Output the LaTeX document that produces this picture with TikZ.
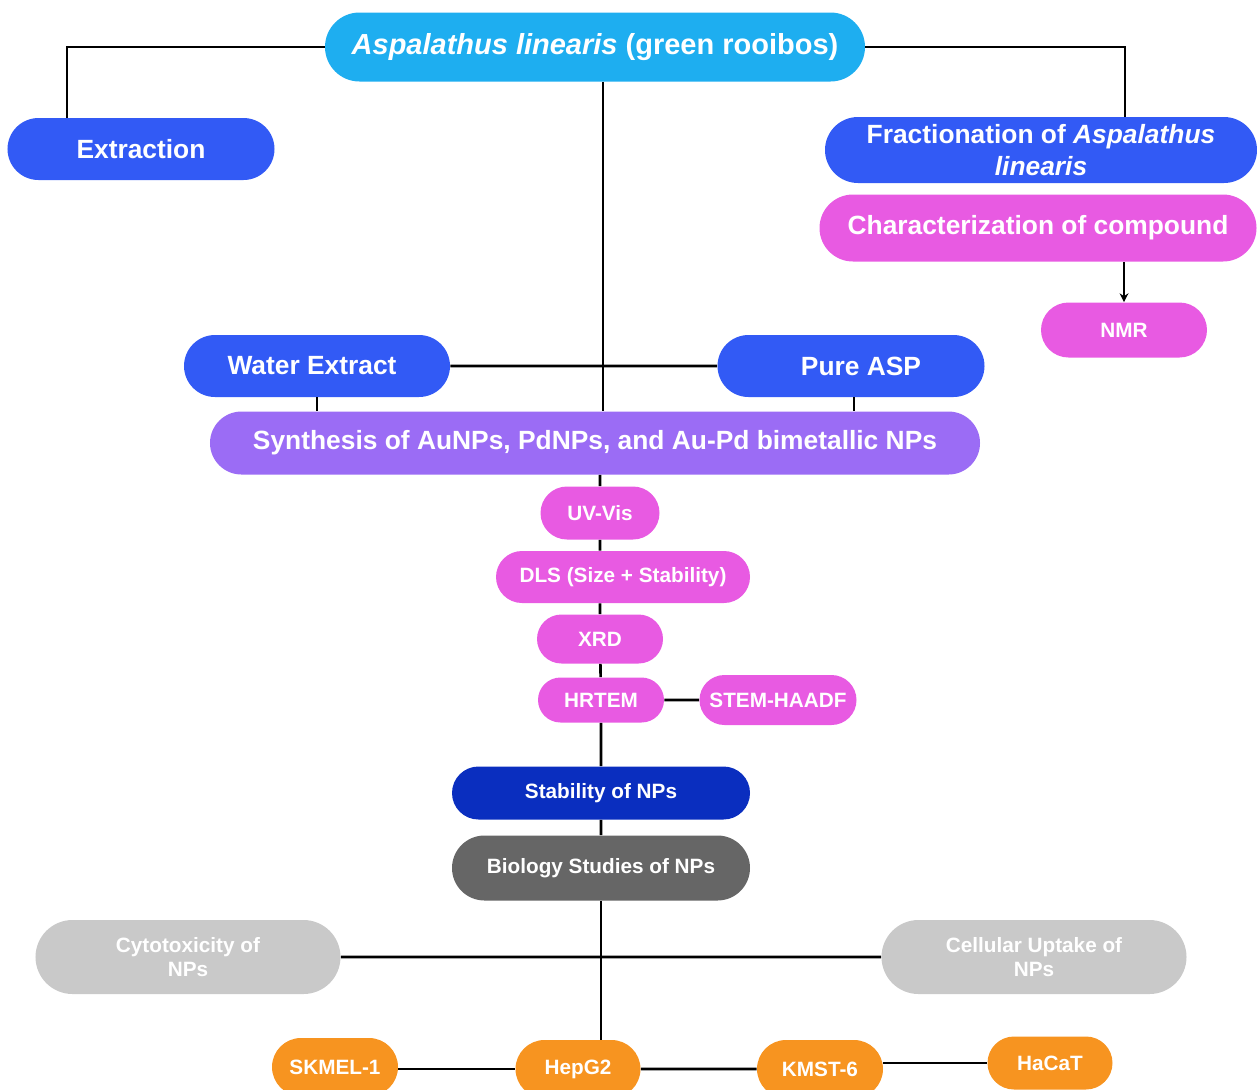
\documentclass[tikz,border=0pt]{standalone}
\usepackage{fontspec}
\setmainfont{Liberation Sans}
\usetikzlibrary{shapes.misc,arrows.meta,calc}

\definecolor{skyblue}{RGB}{30,174,240}
\definecolor{royal}{RGB}{50,90,245}
\definecolor{orchid}{RGB}{232,90,226}
\definecolor{violet}{RGB}{155,108,245}
\definecolor{navy}{RGB}{10,46,191}
\definecolor{slate}{RGB}{102,102,102}
\definecolor{silver}{RGB}{201,201,201}
\definecolor{amber}{RGB}{247,148,32}

\tikzset{
    box/.style={rounded rectangle,inner sep=0pt,text=white,align=center},
    big/.style={box,font=\fontsize{15}{18}\selectfont\bfseries},
    small/.style={box,font=\fontsize{11.8}{14}\selectfont\bfseries},
    link/.style={line width=1.5pt}
}

\begin{document}
\begin{tikzpicture}[x=0.2mm,y=-0.2mm]
    \useasboundingbox (0,0) rectangle (1257,1089);

    \node[box,fill=skyblue,font=\fontsize{16.5}{20}\selectfont\bfseries,minimum width=108mm,minimum height=13.8mm] (root) at (595,47) {\textit{Aspalathus linearis} (green rooibos)};
    \node[big,fill=royal,minimum width=53.4mm,minimum height=12.4mm] (extr) at (141,149) {Extraction};
    \node[big,fill=royal,minimum width=86.4mm,minimum height=13.2mm] (frac) at (1041,150) {Fractionation of \textit{Aspalathus}\\\textit{linearis}};
    \node[big,fill=orchid,minimum width=87.4mm,minimum height=13.4mm] (charac) at (1038,228) {Characterization of compound};
    \node[small,fill=orchid,minimum width=33.2mm,minimum height=11mm] (nmr) at (1124,330) {NMR};
    \node[big,fill=royal,minimum width=53.2mm,minimum height=12.4mm] (water) at (317,366) {Water Extract\hspace{2mm}};
    \node[big,fill=royal,minimum width=53.4mm,minimum height=12.4mm] (pure) at (851,366) {\hspace{4mm}Pure ASP};
    \node[big,fill=violet,minimum width=154mm,minimum height=12.6mm] (synth) at (595,443) {Synthesis of AuNPs, PdNPs, and Au-Pd bimetallic NPs};

    \node[small,fill=orchid,minimum width=23.8mm,minimum height=10.6mm] (uvvis) at (600,513) {UV-Vis};
    \node[small,fill=orchid,minimum width=50.8mm,minimum height=10.4mm] (dls) at (623,577) {DLS (Size + Stability)};
    \node[small,fill=orchid,minimum width=25.2mm,minimum height=9.8mm] (xrd) at (600,639) {XRD};
    \node[small,fill=orchid,minimum width=25.2mm,minimum height=9mm] (hrtem) at (601,700) {HRTEM};
    \node[small,fill=orchid,minimum width=31.4mm,minimum height=10mm] (stem) at (778,700) {STEM-HAADF};

    \node[small,fill=navy,minimum width=59.6mm,minimum height=10.6mm] (stab) at (601,793) {Stability of NPs};
    \node[small,fill=slate,minimum width=59.6mm,minimum height=13mm] (bio) at (601,868) {Biology Studies of NPs};
    \node[small,fill=silver,minimum width=61mm,minimum height=14.8mm] (cyto) at (188,957) {Cytotoxicity of\\NPs};
    \node[small,fill=silver,minimum width=61mm,minimum height=14.8mm] (uptake) at (1034,957) {Cellular Uptake of\\NPs};

    \node[small,fill=amber,minimum width=25.2mm,minimum height=11.6mm] (skmel) at (335,1067) {SKMEL-1};
    \node[small,fill=amber,minimum width=25mm,minimum height=11.6mm] (hepg) at (578,1069) {HepG2};
    \node[small,fill=amber,minimum width=25.2mm,minimum height=11.6mm] (kmst) at (820,1069) {KMST-6};
    \node[small,fill=amber,minimum width=25mm,minimum height=10.6mm] (hacat) at (1050,1063) {HaCaT};

    \draw[link] (root.west) -| ($(extr.north)+(-74,0)$);
    \draw[link] (root.east) -| ($(frac.north)+(84,0)$);
    \draw[link] ($(root.south)+(8,0)$) -- ($(synth.north)+(8,0)$);
    \draw[link] (water) -- (pure);
    \draw[link] (water.south) -- (water.south |- synth.north);
    \draw[link] ($(pure.south)+(3,0)$) -- ($(pure.south |- synth.north)+(3,0)$);
    \draw[link,-{Stealth[length=5pt,width=5pt]}] (charac.south -| nmr) -- (nmr.north);

    \draw[link] (uvvis |- synth.south) -- (uvvis);
    \draw[link] (uvvis) -- (uvvis |- dls.north);
    \draw[link] (xrd |- dls.south) -- (xrd);
    \draw[link] (xrd) -- (hrtem);
    \draw[link] (hrtem) -- (stem);
    \draw[link] (hrtem) -- (stab);
    \draw[link] (stab) -- (bio);
    \draw[link] (bio.south) -- (bio.south |- hepg.north);
    \draw[link] (cyto) -- (uptake);

    \draw[link] (skmel.east |- hepg) -- (hepg);
    \draw[link] (hepg) -- (kmst);
    \draw[link] (kmst.east |- hacat) -- (hacat);
\end{tikzpicture}
\end{document}
